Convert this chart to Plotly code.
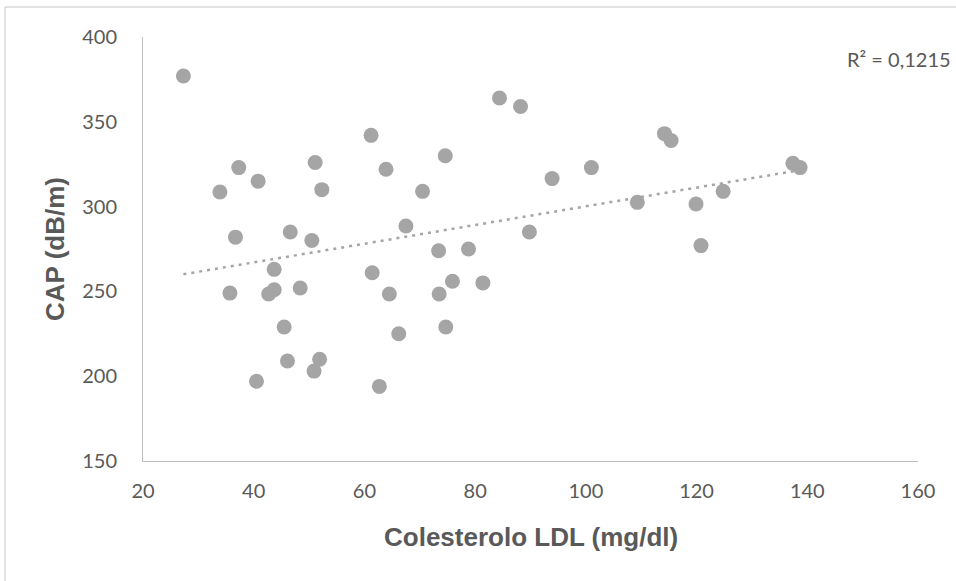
import numpy as np
import plotly.graph_objects as go

# Data
ldl = [27.3, 61.2, 37.3, 51.1, 63.9, 40.8, 33.9, 52.3, 70.5, 36.7,
       46.6, 50.5, 67.5, 43.7, 61.4, 35.7, 42.7, 43.7, 48.4, 64.5,
       45.5, 66.2, 46.1, 51.9, 50.9, 40.5, 62.7, 84.4, 88.2, 74.6,
       114.2, 115.4, 101.0, 93.9, 109.3, 119.9, 89.8, 73.4, 78.8, 120.8,
       75.9, 81.4, 73.5, 74.7, 124.8, 137.4, 138.7]
cap = [377, 342, 323, 326, 322, 315, 308.6, 310, 309, 282,
       285, 280, 288.6, 263, 261, 249, 248.5, 251, 252, 248.5,
       229, 225, 209, 210, 203, 197, 194, 364, 359, 330,
       343, 339, 323, 316.5, 302.5, 301.5, 285, 274, 275, 277,
       256, 255, 248.5, 229, 309, 325.5, 323]

x_ticks = [20, 40, 60, 80, 100, 120, 140, 160]
y_ticks = [150, 200, 250, 300, 350, 400]
r2_label = "R² = 0,1215"
x_title = "Colesterolo LDL (mg/dl)"
y_title = "CAP (dB/m)"

# Linear trendline computed from the data
xa = np.array(ldl)
ya = np.array(cap)
slope, intercept = np.polyfit(xa, ya, 1)
tx = np.array([xa.min(), xa.max()])
ty = slope * tx + intercept

GREY = "#A5A5A5"
TEXT = "#595959"
TITLE_FONT = dict(family="Liberation Sans, Arial, sans-serif", size=26,
                  color=TEXT, weight="bold")

# plot area in page pixels
L, R, T, B = 143, 918, 37, 461
PW, PH = R - L, B - T


def px(xp):
    return (xp - L) / PW


def py(yp):
    return (B - yp) / PH


fig = go.Figure()
fig.add_trace(go.Scatter(
    x=tx, y=ty, mode="lines",
    line=dict(color=GREY, width=2.5, dash="3px,5px"),
    hoverinfo="skip", showlegend=False))
fig.add_trace(go.Scatter(
    x=ldl, y=cap, mode="markers",
    marker=dict(color=GREY, size=15, line=dict(width=0)),
    showlegend=False))

fig.update_layout(
    width=956, height=581,
    margin=dict(l=L, r=956 - R, t=T, b=581 - B),
    paper_bgcolor="white", plot_bgcolor="white",
    font=dict(family="Lato, Open Sans, sans-serif", size=20, color=TEXT),
    xaxis=dict(range=[20, 160], tickvals=x_ticks, showgrid=False,
               zeroline=False, showline=True, linecolor="#BFBFBF", linewidth=1,
               ticks="", tickfont=dict(size=20, color=TEXT),
               ticklabelstandoff=12),
    yaxis=dict(range=[150, 400], tickvals=y_ticks, showgrid=False,
               zeroline=False, showline=True, linecolor="#BFBFBF", linewidth=1,
               ticks="", tickfont=dict(size=20, color=TEXT),
               ticklabelstandoff=21),
    annotations=[
        dict(text=r2_label, xref="paper", yref="paper",
             x=px(845), y=py(59), xanchor="left", yanchor="middle",
             showarrow=False, font=dict(size=20, color=TEXT)),
        dict(text=x_title, xref="paper", yref="paper",
             x=0.5, y=py(537), xanchor="center", yanchor="middle",
             showarrow=False, font=TITLE_FONT),
        dict(text=y_title, xref="paper", yref="paper", textangle=-90,
             x=px(55), y=0.5, xanchor="center", yanchor="middle",
             showarrow=False, font=TITLE_FONT),
    ],
    shapes=[
        dict(type="line", xref="paper", yref="paper",
             x0=px(5), x1=px(960), y0=py(7), y1=py(7),
             line=dict(color="#D9D9D9", width=1.5)),
        dict(type="line", xref="paper", yref="paper",
             x0=px(5), x1=px(5), y0=py(7), y1=py(590),
             line=dict(color="#D9D9D9", width=1.5)),
    ],
)

fig.write_html("out.html", config={"displayModeBar": False},
               post_script="document.body.style.margin='0';")
